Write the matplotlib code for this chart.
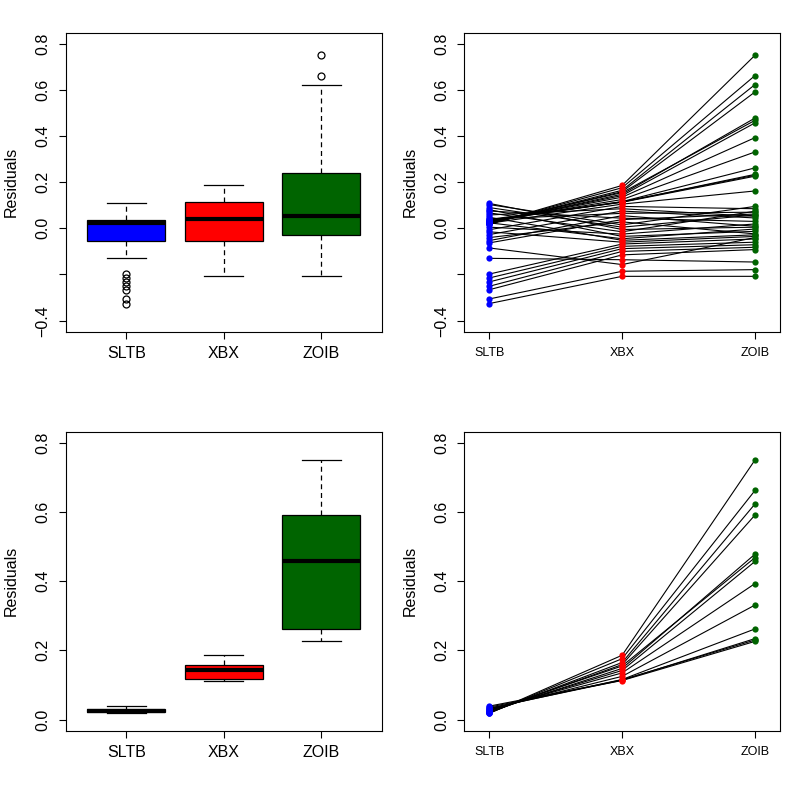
import matplotlib.pyplot as plt
import numpy as np

plt.rcParams['font.family'] = ['Liberation Sans', 'DejaVu Sans']

# residuals per observation for the three methods
methods = ['SLTB', 'XBX', 'ZOIB']
colors = ['blue', 'red', 'darkgreen']

sltb = [0.018, 0.019, 0.020, 0.021, 0.023, 0.025, 0.026, 0.028, 0.030, 0.032, 0.033, 0.036, 0.039,
        -0.326, -0.306, -0.266, -0.251, -0.232, -0.215, -0.198, -0.130, -0.085,
        -0.063, -0.053, -0.040, -0.027, -0.015, -0.006, 0.005, 0.022, 0.024, 0.040,
        0.048, 0.058, 0.067, 0.075, 0.081, 0.090, 0.103, 0.108]
xbx = [0.186, 0.176, 0.165, 0.159, 0.148, 0.155, 0.142, 0.135, 0.125, 0.116, 0.114, 0.115, 0.113,
       -0.208, -0.186, -0.115, -0.100, -0.088, -0.078, -0.068, -0.136, -0.157,
       0.038, 0.055, 0.028, 0.075, -0.060, 0.095, -0.025, 0.105, -0.045, 0.065,
       -0.052, 0.085, -0.015, 0.044, -0.035, 0.005, 0.015, -0.005]
zoib = [0.750, 0.662, 0.623, 0.591, 0.478, 0.468, 0.457, 0.393, 0.331, 0.262, 0.234, 0.230, 0.226,
        -0.208, -0.179, -0.092, -0.082, -0.071, -0.060, -0.046, -0.146, -0.040,
        0.062, 0.009, -0.024, 0.045, -0.035, 0.085, 0.019, 0.162, -0.003, 0.070,
        -0.028, 0.052, 0.074, 0.030, -0.013, 0.058, 0.095, 0.005]

sltb = np.array(sltb)
xbx = np.array(xbx)
zoib = np.array(zoib)

# subset with large ZOIB residuals
sel = zoib > 0.2

fig = plt.figure(figsize=(7.97, 7.97), dpi=100)
W = 0.396
H = 0.3752
ax1 = fig.add_axes([0.0828, 0.5838, W, H])
ax2 = fig.add_axes([0.5826, 0.5838, W, H])
ax3 = fig.add_axes([0.0828, 0.0832, W, H])
ax4 = fig.add_axes([0.5826, 0.0832, W, H])


def style_y(ax, ylim, ticks, labels):
    ax.set_ylim(ylim)
    ax.set_yticks(ticks)
    ax.set_yticklabels(labels, rotation=90, va='center', fontsize=11.5)
    ax.tick_params(axis='y', length=5, width=0.8, pad=6)
    ax.set_ylabel('Residuals', fontsize=11.5, labelpad=12)
    for s in ax.spines.values():
        s.set_linewidth(0.8)


def box_panel(ax, data):
    bp = ax.boxplot(data, positions=[1, 2, 3], widths=0.8, patch_artist=True, whis=1.5,
                    medianprops=dict(color='black', lw=3, solid_capstyle='butt'),
                    whiskerprops=dict(color='black', lw=0.9, linestyle=(0, (4, 3))),
                    capprops=dict(color='black', lw=0.9),
                    boxprops=dict(edgecolor='black', lw=0.9),
                    flierprops=dict(marker='o', markerfacecolor='none', markeredgecolor='black',
                                    markersize=5, markeredgewidth=0.9))
    for patch, c in zip(bp['boxes'], colors):
        patch.set_facecolor(c)
    ax.set_xlim(0.38, 3.62)
    ax.set_xticks([1, 2, 3])
    ax.set_xticklabels(methods, fontsize=11.5)
    ax.tick_params(axis='x', length=5, width=0.8, pad=5)


def line_panel(ax, a, b, c):
    for i in range(len(a)):
        ax.plot([1, 2, 3], [a[i], b[i], c[i]], color='black', lw=0.8, zorder=2)
    for k, vals in enumerate([a, b, c]):
        ax.plot(np.full(len(vals), k + 1), vals, 'o', color=colors[k], markersize=4.5,
                markeredgewidth=0, zorder=3)
    ax.set_xlim(0.812, 3.188)
    ax.set_xticks([1, 2, 3])
    ax.set_xticklabels(methods, fontsize=9)
    ax.tick_params(axis='x', length=5, width=0.8, pad=6)


top_ticks = [-0.4, -0.2, 0.0, 0.2, 0.4, 0.6, 0.8]
top_labels = ['\u22120.4', '', '0.0', '0.2', '0.4', '0.6', '0.8']
bot_ticks = [0.0, 0.2, 0.4, 0.6, 0.8]
bot_labels = ['0.0', '0.2', '0.4', '0.6', '0.8']

box_panel(ax1, [sltb, xbx, zoib])
style_y(ax1, (-0.448, 0.848), top_ticks, top_labels)

line_panel(ax2, sltb, xbx, zoib)
style_y(ax2, (-0.448, 0.848), top_ticks, top_labels)

box_panel(ax3, [sltb[sel], xbx[sel], zoib[sel]])
style_y(ax3, (-0.032, 0.832), bot_ticks, bot_labels)

line_panel(ax4, sltb[sel], xbx[sel], zoib[sel])
style_y(ax4, (-0.032, 0.832), bot_ticks, bot_labels)

fig.savefig('out.png', dpi=100)
